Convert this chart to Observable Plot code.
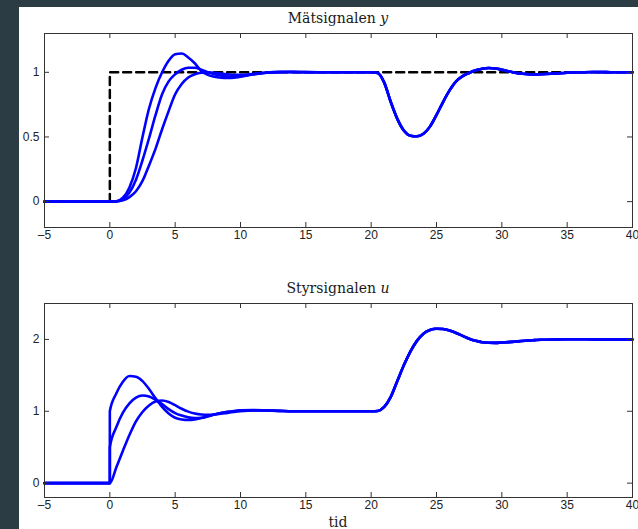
<!DOCTYPE html>
<html><head><meta charset="utf-8">
<script src="https://cdn.jsdelivr.net/npm/d3@7"></script>
<script src="https://cdn.jsdelivr.net/npm/@observablehq/plot@0.6"></script>
<style>
html,body{margin:0;padding:0;background:#2b3c45;width:638px;height:529px;overflow:hidden;position:relative;}
#panel{position:absolute;left:19px;top:7px;width:619px;height:522px;background:#fff;}
.title{position:absolute;left:44px;width:588px;text-align:center;font-family:"DejaVu Serif",serif;font-size:14px;line-height:14px;color:#1a1a1a;white-space:nowrap;}
.chart{position:absolute;left:0;}
</style></head><body>
<div id="panel"></div>
<div class="chart" id="top" style="top:0px"></div>
<div class="chart" id="bot" style="top:270px"></div>
<div class="title" style="top:11px">Mätsignalen <i>y</i></div>
<div class="title" style="top:281px">Styrsignalen <i>u</i></div>
<div class="title" style="top:515px">tid</div>
<script>
// time grid for the step response (duplicate 0 = instant of the step)
const tStep = [-5, 0, 0, 0.5, 1, 1.5, 2, 2.5, 3, 3.5, 4, 4.5, 5, 5.5, 6, 6.5, 7, 7.5, 8, 8.5, 9, 9.5, 10, 11, 12, 13, 14, 15, 16, 17, 18, 19, 20];
// measured signal y for the three controllers
const yA = [0, 0, 0, 0.003, 0.03, 0.11, 0.26, 0.5, 0.72, 0.88, 1.0, 1.09, 1.14, 1.145, 1.115, 1.07, 1.01, 0.98, 0.965, 0.958, 0.956, 0.958, 0.965, 0.985, 0.998, 1.003, 1.004, 1.002, 1, 1, 1, 1, 1];
const yB = [0, 0, 0, 0.002, 0.02, 0.07, 0.17, 0.32, 0.49, 0.67, 0.83, 0.93, 0.985, 1.02, 1.035, 1.035, 1.02, 1.0, 0.985, 0.975, 0.968, 0.967, 0.97, 0.985, 0.997, 1.002, 1.002, 1.001, 1, 1, 1, 1, 1];
const yC = [0, 0, 0, 0.001, 0.01, 0.035, 0.08, 0.16, 0.28, 0.41, 0.56, 0.70, 0.83, 0.91, 0.96, 0.985, 0.997, 1.0, 0.997, 0.99, 0.984, 0.98, 0.98, 0.988, 0.997, 1.0, 1.001, 1, 1, 1, 1, 1, 1];
// control signal u for the three controllers
const uA = [0, 0, 1.0, 1.25, 1.41, 1.49, 1.48, 1.42, 1.31, 1.18, 1.06, 0.97, 0.91, 0.885, 0.878, 0.885, 0.905, 0.93, 0.955, 0.975, 0.992, 1.005, 1.013, 1.018, 1.012, 1.005, 1, 1, 1, 1, 1, 1, 1];
const uB = [0, 0, 0.5, 0.78, 0.98, 1.11, 1.19, 1.22, 1.205, 1.16, 1.1, 1.03, 0.975, 0.94, 0.915, 0.905, 0.91, 0.93, 0.955, 0.975, 0.99, 1.0, 1.01, 1.015, 1.01, 1.004, 1, 1, 1, 1, 1, 1, 1];
const uC = [0, 0, 0, 0.22, 0.45, 0.67, 0.86, 0.99, 1.08, 1.135, 1.15, 1.13, 1.085, 1.035, 0.995, 0.97, 0.955, 0.95, 0.955, 0.965, 0.978, 0.99, 1.0, 1.01, 1.01, 1.005, 1, 1, 1, 1, 1, 1, 1];
// load disturbance part (same for all three)
const tLoad = [20.5, 21, 21.5, 22, 22.5, 23, 23.5, 24, 24.5, 25, 25.5, 26, 26.5, 27, 27.5, 28, 28.5, 29, 29.5, 30, 30.5, 31, 31.5, 32, 32.5, 33, 34, 35, 36, 37, 38, 39, 40];
const yLoad = [0.995, 0.92, 0.77, 0.64, 0.55, 0.51, 0.505, 0.525, 0.58, 0.67, 0.77, 0.86, 0.93, 0.97, 0.995, 1.015, 1.028, 1.033, 1.03, 1.02, 1.008, 0.997, 0.99, 0.985, 0.984, 0.985, 0.99, 0.996, 1.0, 1.002, 1.001, 1.0, 1.0];
const uLoad = [1.005, 1.06, 1.2, 1.42, 1.64, 1.83, 1.98, 2.08, 2.13, 2.148, 2.145, 2.125, 2.09, 2.05, 2.01, 1.98, 1.96, 1.953, 1.952, 1.957, 1.963, 1.97, 1.978, 1.985, 1.99, 1.995, 2.0, 2.002, 2.002, 2.001, 2.0, 1.999, 1.998];
// reference (setpoint)
const refT = [-5, 0, 0, 40];
const refV = [0, 0, 1, 1];
// ticks and tick labels
const xTicks = [-5, 0, 5, 10, 15, 20, 25, 30, 35, 40];
const xTickLabels = ["\u20135", "0", "5", "10", "15", "20", "25", "30", "35", "40"];
const yTicksTop = [0, 0.5, 1];
const yTickLabelsTop = ["0", "0.5", "1"];
const yTicksBot = [0, 1, 2];
const yTickLabelsBot = ["0", "1", "2"];
const xDomain = [-5, 40];
const yDomainTop = [-0.2, 1.3];
const yDomainBot = [-0.2, 2.5];

function build(parts, load) {
  const out = [];
  parts.forEach(([name, vals]) => {
    tStep.forEach((t, i) => out.push({s: name, t, v: vals[i]}));
    tLoad.forEach((t, i) => out.push({s: name, t, v: load[i]}));
  });
  return out;
}
const yData = build([["A", yA], ["B", yB], ["C", yC]], yLoad);
const uData = build([["A", uA], ["B", uB], ["C", uC]], uLoad);
const refData = refT.map((t, i) => ({t, v: refV[i]}));

const W = 638, ML = 44, MR = 6, MT = 33, PH = 194;
const PW = W - ML - MR;
const axisColor = "#333";

function panel(data, yTicks, yLabels, yDomain, extra, mb) {
  return Plot.plot({
    width: W, height: MT + PH + mb,
    marginLeft: ML, marginRight: MR, marginTop: MT, marginBottom: mb,
    style: {background: "transparent", fontFamily: "'Liberation Sans', Arial, sans-serif", fontSize: "12px", color: "#222"},
    x: {domain: xDomain},
    y: {domain: yDomain},
    marks: [
      ...extra,
      Plot.line(data, {x: "t", y: "v", z: "s", stroke: "#0000ff", strokeWidth: 2.6, curve: "monotone-x"}),
      Plot.ruleX(xTicks, {stroke: axisColor, insetTop: PH - 5}),
      Plot.ruleX(xTicks, {stroke: axisColor, insetBottom: PH - 5}),
      Plot.ruleY(yTicks, {stroke: axisColor, insetRight: PW - 5}),
      Plot.ruleY(yTicks, {stroke: axisColor, insetLeft: PW - 5}),
      Plot.axisX(xTicks, {tickSize: 0, tickPadding: 3, label: null, tickFormat: d => xTickLabels[xTicks.indexOf(d)]}),
      Plot.axisY(yTicks, {tickSize: 0, tickPadding: 5, label: null, tickFormat: d => yLabels[yTicks.indexOf(d)]}),
      Plot.frame({stroke: axisColor})
    ]
  });
}

document.getElementById("top").append(panel(yData, yTicksTop, yTickLabelsTop, yDomainTop, [
  Plot.line(refData, {x: "t", y: "v", stroke: "#000", strokeWidth: 2.5, strokeDasharray: "8,5"})
], 25));
document.getElementById("bot").append(panel(uData, yTicksBot, yTickLabelsBot, yDomainBot, [], 32));
</script>
</body></html>
